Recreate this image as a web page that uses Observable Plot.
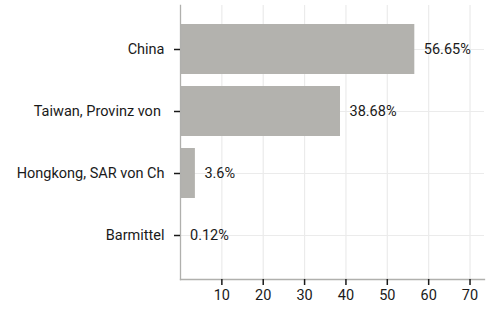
<!DOCTYPE html>
<html><head><meta charset="utf-8">
<script src="https://cdn.jsdelivr.net/npm/d3@7"></script>
<script src="https://cdn.jsdelivr.net/npm/@observablehq/plot@0.6"></script>
<style>body{margin:0;background:#fff;} svg{font-family:Roboto, sans-serif;}</style>
</head><body><div id="chart"></div>
<script>
const categories = ["China", "Taiwan, Provinz von\u00a0", "Hongkong, SAR von China", "Barmittel"];
const values = [56.65, 38.68, 3.6, 0.12];
const labels = ["56.65%", "38.68%", "3.6%", "0.12%"];
const xTicks = [10, 20, 30, 40, 50, 60, 70];

const data = categories.map((c, i) => ({cat: c, value: values[i], label: labels[i]}));

const chart = Plot.plot({
  width: 493, height: 311,
  marginLeft: 180, marginRight: 9, marginTop: 5, marginBottom: 32,
  style: {fontFamily: "Roboto, sans-serif", fontSize: "14.5px", color: "#1a1a1a", background: "#fff"},
  x: {domain: [0, 73.5]},
  y: {domain: categories, paddingInner: 0.2, paddingOuter: 0.28},
  marks: [
    Plot.gridX(xTicks, {stroke: "#ebebeb", strokeOpacity: 1, strokeWidth: 1.2}),
    Plot.gridY(categories, {stroke: "#ebebeb", strokeOpacity: 1, strokeWidth: 1.2}),
    Plot.barX(data, {x: "value", y: "cat", fill: "#b3b2ae"}),
    Plot.text(data, {x: "value", y: "cat", text: "label", textAnchor: "start", dx: 9, fontSize: 14.5, fill: "#1a1a1a"}),
    Plot.frame({anchor: "left", stroke: "#b0b0ad", strokeWidth: 1.3}),
    Plot.frame({anchor: "bottom", stroke: "#b0b0ad", strokeWidth: 1.3}),
    Plot.axisX(xTicks, {tickSize: 6, tickPadding: 4, fontSize: 14.5, stroke: "#1a1a1a", strokeWidth: 1.5, label: null, tickFormat: d => String(d)}),
    Plot.axisY(categories, {tickSize: 6, tickPadding: 10, fontSize: 14.5, stroke: "#1a1a1a", strokeWidth: 1.5, label: null, tickFormat: d => d.slice(0, 20)})
  ]
});
document.getElementById("chart").appendChild(chart);
</script>
</body></html>
